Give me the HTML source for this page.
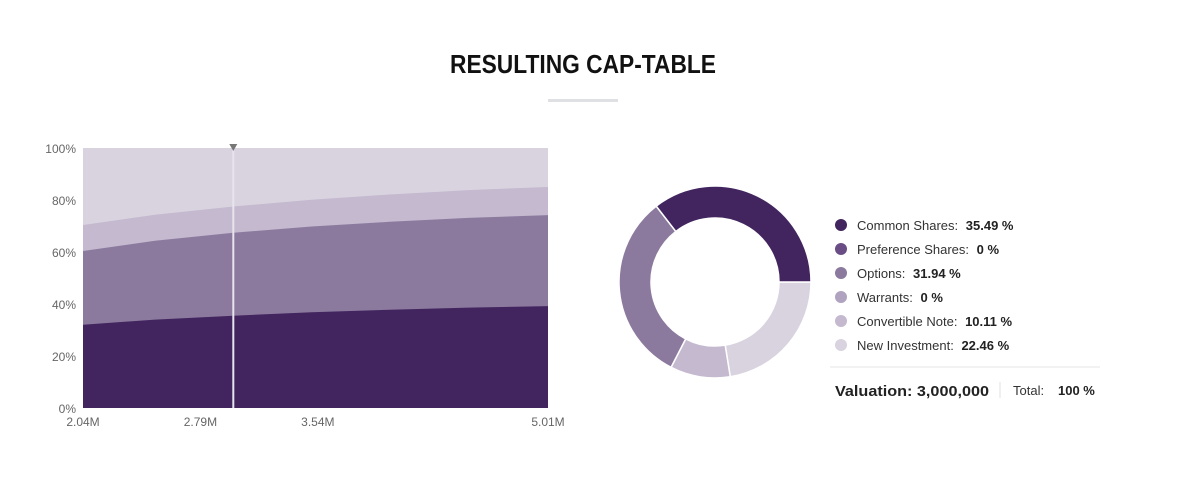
<!DOCTYPE html>
<html><head><meta charset="utf-8"><style>
html,body{margin:0;padding:0;background:#fff;}
svg{display:block;font-family:"Liberation Sans",sans-serif;}
</style></head><body>
<svg id="s" width="1183" height="483" viewBox="0 0 1183 483">
<text x="583" y="73" text-anchor="middle" font-size="26" font-weight="bold" fill="#111" textLength="266" lengthAdjust="spacingAndGlyphs">RESULTING CAP-TABLE</text>
<rect x="548" y="99" width="70" height="3" fill="#dfe0e3"/>
<g id="area"></g>
<g id="axes"></g>
<g id="donut"></g>
<g id="legend"></g>
<line x1="830" y1="367" x2="1100" y2="367" stroke="#e6e6e6"/>
<text x="835" y="396" font-size="15" font-weight="bold" fill="#222" textLength="154" lengthAdjust="spacingAndGlyphs">Valuation: 3,000,000</text>
<line x1="1000" y1="382" x2="1000" y2="398" stroke="#e0e0e0"/>
<text x="1013" y="395" font-size="13" fill="#333">Total:</text>
<text x="1058" y="395" font-size="13" font-weight="bold" fill="#222">100 %</text>
</svg>
<script>
const valuations=[2.04,2.5,3.0,3.5,4.0,4.5,5.01];
const commonShares=[32,34,35.5,36.8,37.8,38.6,39.2];
const options=[28.4,30.3,31.9,33.0,33.8,34.5,35.0];
const convertibleNote=[10.0,10.05,10.1,10.3,10.5,10.7,10.8];
const xTickValues=[2.04,2.79,3.54,5.01];
const xTickLabels=["2.04M","2.79M","3.54M","5.01M"];
const yTicks=[0,20,40,60,80,100];
const cursorValuation=3.0;
const donutLabels=["Common Shares","Preference Shares","Options","Warrants","Convertible Note","New Investment"];
const donutValues=[35.49,0,31.94,0,10.11,22.46];
const colors=["#42255f","#6a4d85","#8b7a9e","#b0a3bf","#c4b9cf","#d9d3e0"];
const NS="http://www.w3.org/2000/svg";
const X0=83,X1=548,Y0=408,Y1=148;
const xs=v=>X0+(v-valuations[0])/(valuations[valuations.length-1]-valuations[0])*(X1-X0);
const ys=p=>Y0-p/100*(Y0-Y1);
function mk(t,a,p){const e=document.createElementNS(NS,t);for(const k in a)e.setAttribute(k,a[k]);p.appendChild(e);return e;}
const area=document.getElementById('area');
const bg=mk('rect',{x:X0,y:Y1,width:X1-X0,height:Y0-Y1,fill:colors[5]},area);


const cum1=commonShares, cum2=commonShares.map((c,i)=>c+options[i]), cum3=cum2.map((c,i)=>c+convertibleNote[i]);
function band(top,col,name){
  let d='M'+X0+','+Y0;
  top.forEach((v,i)=>{d+=' L'+xs(valuations[i]).toFixed(1)+','+ys(v).toFixed(1);});
  d+=' L'+X1+','+Y0+' Z';
  const p=mk('path',{d:d,fill:col},area);
  
  
}
band(cum3,colors[4],'area-convertible-note');
band(cum2,colors[2],'area-options');
band(cum1,colors[0],'area-common-shares');
const cx=xs(cursorValuation);
const cl=mk('line',{x1:cx,y1:Y1,x2:cx,y2:Y0,stroke:'#e8e4ee','stroke-width':2},area);


const tri=mk('path',{d:`M${cx-4},${Y1-4} L${cx+4},${Y1-4} L${cx},${Y1+3} Z`,fill:'#777'},area);


const axes=document.getElementById('axes');
yTicks.forEach(t=>{
  const e=mk('text',{x:76,y:ys(t)+5,'text-anchor':'end','font-size':12,fill:'#666'},axes);
  e.textContent=t+'%';
  
  
});
xTickValues.forEach((v,i)=>{
  const e=mk('text',{x:xs(v),y:426,'text-anchor':'middle','font-size':12,fill:'#666'},axes);
  e.textContent=xTickLabels[i];
  
  
});
// donut
const dg=document.getElementById('donut');
const DX=715,DY=282,R=96,r=64;
const total=donutValues.reduce((a,b)=>a+b,0);
let ang=90;
for(let i=donutValues.length-1;i>=0;i--){
  const v=donutValues[i]; if(v<=0) continue;
  const a0=ang, a1=ang+v/total*360; ang=a1;
  const rad=a=>(a-90)*Math.PI/180;
  const pt=(rr,a)=>[DX+rr*Math.cos(rad(a)),DY+rr*Math.sin(rad(a))];
  const large=(a1-a0)>180?1:0;
  const [x0,y0]=pt(R,a0),[x1,y1]=pt(R,a1),[x2,y2]=pt(r,a1),[x3,y3]=pt(r,a0);
  const p=mk('path',{d:`M${x0},${y0} A${R},${R} 0 ${large} 1 ${x1},${y1} L${x2},${y2} A${r},${r} 0 ${large} 0 ${x3},${y3} Z`,fill:colors[i],stroke:'#fff','stroke-width':1.5},dg);
  
  
}
const lg=document.getElementById('legend');
donutLabels.forEach((l,i)=>{
  const y=225+i*24;
  const c=mk('circle',{cx:841,cy:y,r:6,fill:colors[i]},lg);
  
  
  const t=mk('text',{x:857,y:y+5,'font-size':13,fill:'#333'},lg);
  
  
  t.textContent=l+':  ';
  const b=mk('tspan',{'font-weight':'bold',fill:'#222',dx:4},t);
  b.textContent=donutValues[i]+' %';
});
</script>
</body></html>
